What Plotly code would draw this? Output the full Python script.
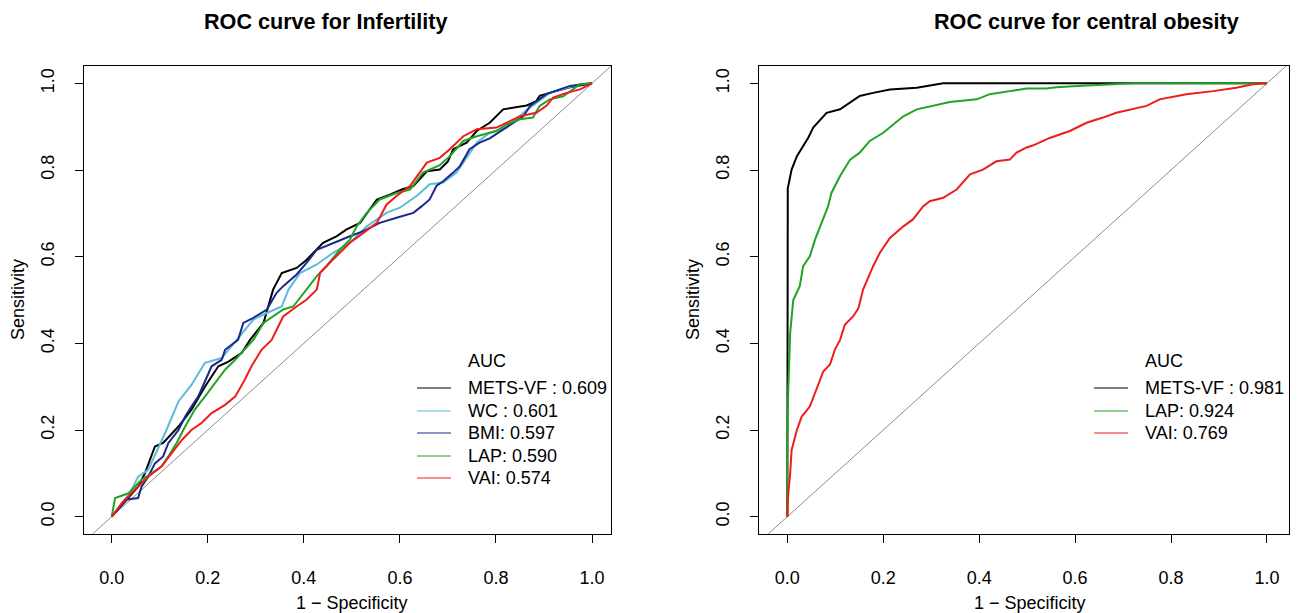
import plotly.graph_objects as go

W, H = 1297, 613

# ---------------- data: left panel (Infertility) ----------------
mets_vf_fpr = [0, 0.055, 0.069, 0.090, 0.107, 0.139, 0.166, 0.194, 0.222, 0.243, 0.271, 0.288, 0.316, 0.336, 0.354, 0.385, 0.406, 0.440, 0.468, 0.489, 0.517, 0.552, 0.579, 0.604, 0.628, 0.656, 0.683, 0.700, 0.711, 0.739, 0.760, 0.787, 0.815, 0.864, 0.884, 0.891, 0.912, 0.954, 1.0]
mets_vf_tpr = [0, 0.069, 0.100, 0.162, 0.170, 0.208, 0.247, 0.300, 0.347, 0.358, 0.378, 0.408, 0.447, 0.524, 0.562, 0.574, 0.593, 0.632, 0.647, 0.663, 0.678, 0.732, 0.743, 0.755, 0.763, 0.797, 0.801, 0.820, 0.848, 0.863, 0.890, 0.909, 0.940, 0.949, 0.959, 0.971, 0.978, 0.991, 1.0]

wc_fpr = [0, 0.038, 0.055, 0.076, 0.114, 0.139, 0.166, 0.194, 0.229, 0.277, 0.295, 0.323, 0.354, 0.368, 0.392, 0.427, 0.461, 0.496, 0.531, 0.572, 0.600, 0.638, 0.662, 0.690, 0.718, 0.732, 0.760, 0.787, 0.822, 0.857, 0.884, 0.912, 0.947, 0.975, 1.0]
wc_tpr = [0, 0.055, 0.092, 0.108, 0.200, 0.266, 0.304, 0.355, 0.366, 0.431, 0.455, 0.470, 0.485, 0.524, 0.562, 0.582, 0.609, 0.632, 0.670, 0.701, 0.713, 0.743, 0.767, 0.771, 0.794, 0.817, 0.863, 0.886, 0.898, 0.932, 0.955, 0.978, 0.990, 0.998, 1.0]

bmi_fpr = [0, 0.028, 0.055, 0.062, 0.076, 0.090, 0.107, 0.118, 0.139, 0.153, 0.166, 0.180, 0.194, 0.208, 0.229, 0.236, 0.263, 0.274, 0.295, 0.323, 0.343, 0.357, 0.385, 0.406, 0.427, 0.461, 0.496, 0.524, 0.558, 0.593, 0.628, 0.645, 0.662, 0.676, 0.690, 0.711, 0.725, 0.745, 0.766, 0.787, 0.822, 0.857, 0.871, 0.905, 0.954, 1.0]
bmi_tpr = [0, 0.039, 0.043, 0.069, 0.092, 0.123, 0.139, 0.170, 0.200, 0.231, 0.254, 0.277, 0.312, 0.347, 0.362, 0.385, 0.408, 0.447, 0.459, 0.478, 0.516, 0.532, 0.559, 0.586, 0.616, 0.632, 0.647, 0.659, 0.678, 0.690, 0.701, 0.716, 0.732, 0.763, 0.774, 0.794, 0.809, 0.848, 0.863, 0.873, 0.898, 0.924, 0.948, 0.975, 0.994, 1.0]

lap_fpr = [0, 0.007, 0.035, 0.062, 0.083, 0.104, 0.118, 0.135, 0.153, 0.173, 0.194, 0.215, 0.236, 0.257, 0.277, 0.295, 0.316, 0.336, 0.357, 0.378, 0.399, 0.427, 0.447, 0.475, 0.496, 0.510, 0.531, 0.558, 0.593, 0.621, 0.648, 0.683, 0.704, 0.732, 0.760, 0.801, 0.822, 0.850, 0.877, 0.891, 0.912, 0.940, 0.975, 1.0]
lap_tpr = [0, 0.043, 0.054, 0.085, 0.100, 0.116, 0.139, 0.170, 0.208, 0.247, 0.277, 0.308, 0.339, 0.362, 0.385, 0.408, 0.447, 0.462, 0.478, 0.485, 0.516, 0.555, 0.578, 0.616, 0.639, 0.670, 0.701, 0.732, 0.747, 0.755, 0.794, 0.811, 0.832, 0.867, 0.878, 0.890, 0.905, 0.917, 0.921, 0.948, 0.963, 0.970, 0.998, 1.0]

vai_fpr = [0, 0.021, 0.048, 0.076, 0.104, 0.125, 0.146, 0.166, 0.187, 0.208, 0.236, 0.257, 0.277, 0.291, 0.312, 0.333, 0.357, 0.385, 0.406, 0.427, 0.434, 0.454, 0.475, 0.496, 0.524, 0.552, 0.572, 0.593, 0.621, 0.642, 0.656, 0.683, 0.704, 0.732, 0.760, 0.801, 0.829, 0.850, 0.884, 0.905, 0.919, 0.947, 0.975, 1.0]
vai_tpr = [0, 0.031, 0.062, 0.092, 0.116, 0.147, 0.177, 0.200, 0.216, 0.239, 0.258, 0.277, 0.316, 0.347, 0.385, 0.408, 0.462, 0.485, 0.501, 0.524, 0.563, 0.586, 0.609, 0.632, 0.655, 0.678, 0.720, 0.740, 0.763, 0.794, 0.817, 0.828, 0.848, 0.878, 0.894, 0.898, 0.913, 0.924, 0.932, 0.948, 0.967, 0.978, 0.986, 1.0]

# ---------------- data: right panel (central obesity) ----------------
co_mets_fpr = [0, 0, 0.001, 0.002, 0.009, 0.020, 0.033, 0.044, 0.054, 0.072, 0.082, 0.110, 0.131, 0.151, 0.179, 0.214, 0.270, 0.325, 1.0]
co_mets_tpr = [0, 0.678, 0.759, 0.763, 0.801, 0.832, 0.855, 0.875, 0.898, 0.921, 0.932, 0.940, 0.955, 0.971, 0.978, 0.986, 0.990, 1.0, 1.0]

co_lap_fpr = [0, 0, 0.002, 0.006, 0.0125, 0.026, 0.033, 0.047, 0.058, 0.072, 0.085, 0.092, 0.110, 0.131, 0.151, 0.172, 0.200, 0.221, 0.242, 0.270, 0.304, 0.339, 0.395, 0.422, 0.464, 0.499, 0.540, 0.561, 0.624, 0.721, 1.0]
co_lap_tpr = [0, 0.17, 0.293, 0.424, 0.50, 0.532, 0.578, 0.601, 0.640, 0.678, 0.716, 0.747, 0.786, 0.824, 0.840, 0.867, 0.886, 0.905, 0.924, 0.940, 0.948, 0.957, 0.963, 0.975, 0.982, 0.988, 0.988, 0.991, 0.995, 1.0, 1.0]

co_vai_fpr = [0, 0.002, 0.006, 0.009, 0.020, 0.030, 0.047, 0.058, 0.068, 0.075, 0.089, 0.099, 0.110, 0.120, 0.137, 0.148, 0.158, 0.179, 0.193, 0.214, 0.242, 0.262, 0.283, 0.297, 0.325, 0.353, 0.381, 0.408, 0.436, 0.464, 0.478, 0.499, 0.513, 0.547, 0.589, 0.624, 0.658, 0.686, 0.749, 0.776, 0.832, 0.888, 0.936, 0.971, 1.0]
co_vai_tpr = [0, 0.054, 0.100, 0.154, 0.200, 0.231, 0.254, 0.285, 0.316, 0.335, 0.351, 0.385, 0.408, 0.443, 0.462, 0.480, 0.524, 0.578, 0.609, 0.643, 0.670, 0.686, 0.716, 0.728, 0.736, 0.755, 0.790, 0.801, 0.820, 0.824, 0.840, 0.852, 0.857, 0.874, 0.890, 0.909, 0.921, 0.932, 0.948, 0.963, 0.975, 0.982, 0.990, 0.998, 1.0]

left_labels = ["METS-VF : 0.609", "WC : 0.601", "BMI: 0.597", "LAP: 0.590", "VAI: 0.574"]
right_labels = ["METS-VF : 0.981", "LAP: 0.924", "VAI: 0.769"]
titles = ["ROC curve for Infertility", "ROC curve for central obesity"]
tick_vals = [0.0, 0.2, 0.4, 0.6, 0.8, 1.0]
tick_text = ["0.0", "0.2", "0.4", "0.6", "0.8", "1.0"]

C_BLACK = "#000000"
C_CYAN = "#5BBCD8"
C_NAVY = "#1B2A8A"
C_GREEN = "#22A322"
C_RED = "#EE1C1C"

FONT = "Liberation Sans, Arial, Helvetica, sans-serif"

def px(x):
    return x / W

def py(y):
    return 1 - y / H

YRANGE = [-0.04, 1.04]
XRANGE_L = [-0.0577, 1.0395]
XRANGE_R = [-0.059, 1.046]

fig = go.Figure()

left_series = [
    (mets_vf_fpr, mets_vf_tpr, C_BLACK),
    (wc_fpr, wc_tpr, C_CYAN),
    (bmi_fpr, bmi_tpr, C_NAVY),
    (lap_fpr, lap_tpr, C_GREEN),
    (vai_fpr, vai_tpr, C_RED),
]
right_series = [
    (co_mets_fpr, co_mets_tpr, C_BLACK),
    (co_lap_fpr, co_lap_tpr, C_GREEN),
    (co_vai_fpr, co_vai_tpr, C_RED),
]

# identity lines
for xa, ya in [("x", "y"), ("x2", "y2")]:
    fig.add_trace(go.Scatter(x=YRANGE, y=YRANGE, mode="lines", xaxis=xa, yaxis=ya,
                             line=dict(color="#8C8C8C", width=1), showlegend=False, hoverinfo="skip"))

for fx, ty, col in left_series:
    fig.add_trace(go.Scatter(x=fx, y=ty, mode="lines", xaxis="x", yaxis="y",
                             line=dict(color=col, width=2), showlegend=False))
for fx, ty, col in right_series:
    fig.add_trace(go.Scatter(x=fx, y=ty, mode="lines", xaxis="x2", yaxis="y2",
                             line=dict(color=col, width=2), showlegend=False))

ydom = [py(534), py(66)]
axis_common = dict(showline=True, mirror=True, linecolor="black", linewidth=1,
                   ticks="outside", ticklen=8, tickwidth=1, tickcolor="black",
                   showgrid=False, zeroline=False,
                   tickvals=tick_vals, ticktext=tick_text,
                   tickfont=dict(family=FONT, size=18, color="black"))

fig.update_layout(
    width=W, height=H,
    margin=dict(l=0, r=0, t=0, b=0),
    paper_bgcolor="white", plot_bgcolor="white",
    showlegend=False,
    xaxis=dict(domain=[px(84), px(611)], range=XRANGE_L, anchor="y", ticklabelstandoff=19, **axis_common),
    yaxis=dict(domain=ydom, range=YRANGE, anchor="x", tickangle=-90, ticklabelstandoff=14, **axis_common),
    xaxis2=dict(domain=[px(759), px(1289)], range=XRANGE_R, anchor="y2", ticklabelstandoff=19, **axis_common),
    yaxis2=dict(domain=ydom, range=YRANGE, anchor="x2", tickangle=-90, ticklabelstandoff=14, **axis_common),
)

ann = []
# titles
ann.append(dict(x=px(326), y=py(21), text="<b>" + titles[0] + "</b>", showarrow=False,
                xref="paper", yref="paper", xanchor="center", yanchor="middle",
                font=dict(family=FONT, size=21.6, color="black")))
ann.append(dict(x=px(1086), y=py(21), text="<b>" + titles[1] + "</b>", showarrow=False,
                xref="paper", yref="paper", xanchor="center", yanchor="middle",
                font=dict(family=FONT, size=21.6, color="black")))
# axis titles
for cx in [352, 1030]:
    ann.append(dict(x=px(cx), y=py(603), text="1 − Specificity", showarrow=False,
                    xref="paper", yref="paper", xanchor="center", yanchor="middle",
                    font=dict(family=FONT, size=18, color="black")))
for cx in [18, 693]:
    ann.append(dict(x=px(cx), y=py(300), text="Sensitivity", showarrow=False, textangle=-90,
                    xref="paper", yref="paper", xanchor="center", yanchor="middle",
                    font=dict(family=FONT, size=18, color="black")))

shapes = []
def add_legend(x_line0, x_line1, x_text, y_title, y_rows, labels, colors):
    ann.append(dict(x=px(x_text), y=py(y_title), text="AUC", showarrow=False,
                    xref="paper", yref="paper", xanchor="left", yanchor="middle",
                    font=dict(family=FONT, size=18, color="black")))
    for yy, lab, col in zip(y_rows, labels, colors):
        ann.append(dict(x=px(x_text), y=py(yy), text=lab, showarrow=False,
                        xref="paper", yref="paper", xanchor="left", yanchor="middle",
                        font=dict(family=FONT, size=18, color="black")))
        shapes.append(dict(type="line", xref="paper", yref="paper",
                           x0=px(x_line0), x1=px(x_line1), y0=py(yy), y1=py(yy),
                           line=dict(color=col, width=1)))

add_legend(417, 451, 466, 361, [388, 411, 433, 456, 478], left_labels,
           [C_BLACK, C_CYAN, C_NAVY, C_GREEN, C_RED])
add_legend(1094, 1128, 1143, 361, [388, 411, 433], right_labels,
           [C_BLACK, C_GREEN, C_RED])

fig.update_layout(annotations=ann, shapes=shapes)
fig.write_html("out.html",
               config={"displayModeBar": False},
               post_script="document.body.style.margin='0';document.body.style.overflow='hidden';")
